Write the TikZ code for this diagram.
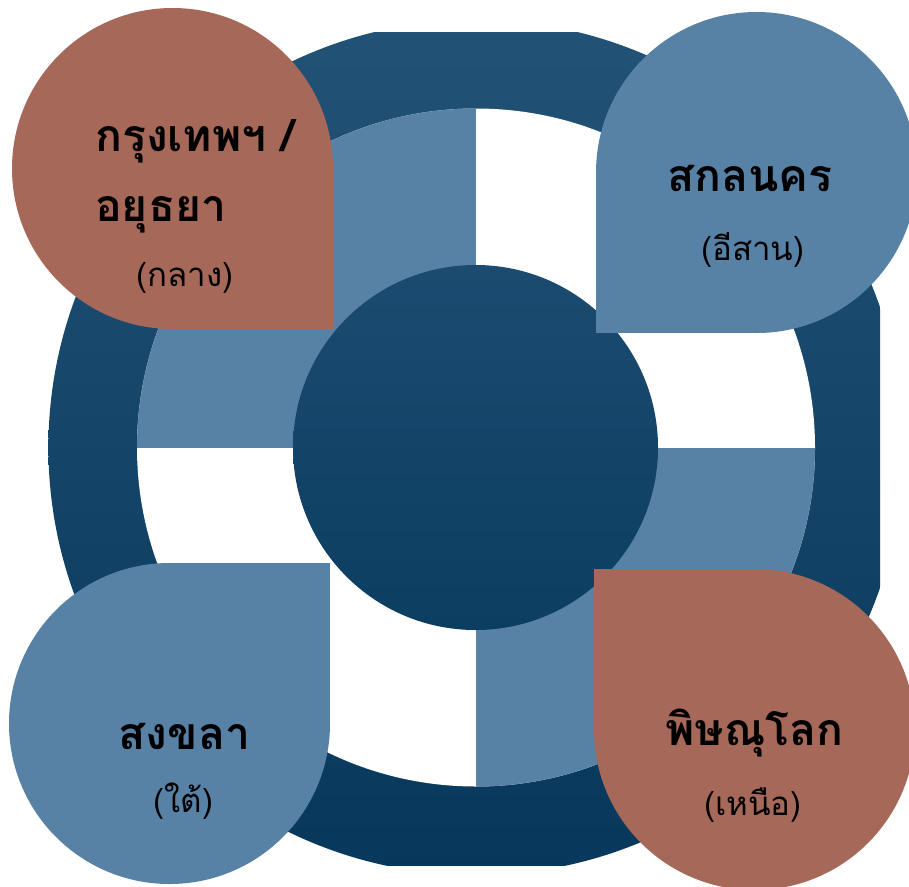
\documentclass[tikz,border=0pt]{standalone}
\usepackage{fontspec}
\newfontfamily\thaifont[Script=Thai]{Loma}
\definecolor{ringtop}{HTML}{225377}
\definecolor{ringbot}{HTML}{07375A}
\definecolor{hubtop}{HTML}{1C4B70}
\definecolor{hubbot}{HTML}{0B3E61}
\definecolor{lightblue}{HTML}{5881A6}
\definecolor{brick}{HTML}{A66858}
\tikzset{
  mainlbl/.style={inner sep=0pt, font=\thaifont\bfseries\fontsize{44.5}{52}\selectfont, text=black},
  sublbl/.style={inner sep=0pt, font=\thaifont\fontsize{33}{38}\selectfont, text=black},
}
\begin{document}
\begin{tikzpicture}[x=1pt,y=-1pt]
\useasboundingbox (0,0) rectangle (909,886);
% outer ring
\begin{scope}
  \clip (47,32) rectangle (880,865);
  \shade[top color=ringtop, bottom color=ringbot] (476,447.5) circle (427.6pt);
\end{scope}
% inner white disc with light blue quadrants
\fill[white] (476,447.5) circle (339pt);
\begin{scope}
  \clip (476,447.5) circle (339pt);
  \fill[lightblue] (476,447.5) rectangle (100,80);
  \fill[lightblue] (476,447.5) rectangle (850,820);
\end{scope}
% hub
\shade[top color=hubtop, bottom color=hubbot] (475.5,447.5) circle (182.5pt);
% teardrops
\fill[brick] (172.5,168.5) circle (160.5pt);
\fill[brick] (172.5,168.5) rectangle (333,329);
\fill[lightblue] (756.5,172.5) circle (160.5pt);
\fill[lightblue] (596,172.5) rectangle (756.5,333);
\fill[lightblue] (169.5,723.5) circle (160.5pt);
\fill[lightblue] (169.5,563) rectangle (330,723.5);
\fill[brick] (754.5,729.5) circle (160.5pt);
\fill[brick] (594,569) rectangle (754.5,729.5);
% labels
\node[mainlbl, anchor=west] (tl1) at (95,141) {กรุงเทพฯ /};
\node[mainlbl, anchor=west] (tl2) at (95,215) {อยุธยา};
\node[sublbl] (tl3) at (185,278) {(กลาง)};
\node[mainlbl] (tr1) at (750,178) {สกลนคร};
\node[sublbl] (tr2) at (753,250) {(อีสาน)};
\node[mainlbl] (bl1) at (184.5,736) {สงขลา};
\node[sublbl] (bl2) at (183.5,801) {(ใต้)};
\node[mainlbl] (br1) at (754.5,733) {พิษณุโลก};
\node[sublbl] (br2) at (753,805) {(เหนือ)};
\end{tikzpicture}
\end{document}
